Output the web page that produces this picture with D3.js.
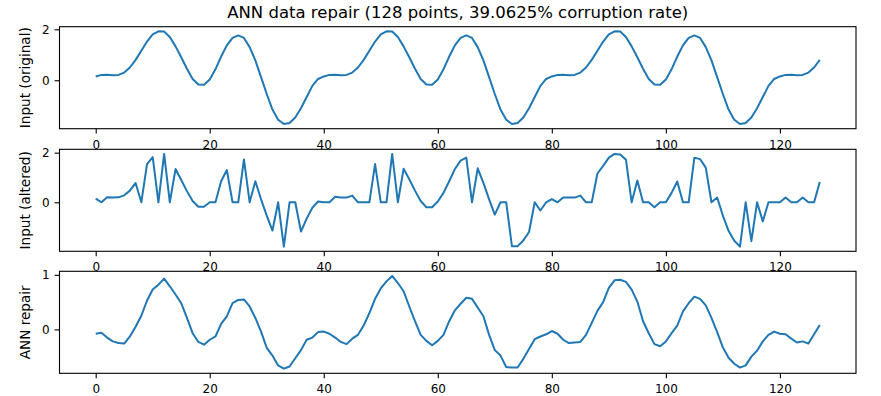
<!DOCTYPE html>
<html lang='en'>
<head>
	<meta charset='UTF-8'>
	<title>ANN data repair</title>
	<style>
		body { margin: 0; background: #fff; }
		svg { display: block; font-family: 'DejaVu Sans', sans-serif; }
	</style>
</head>
<body>

<svg></svg>

<script src='https://d3js.org/d3.v7.min.js'></script>
<script>
const title = 'ANN data repair (128 points, 39.0625% corruption rate)'
const labels = ['Input (original)', 'Input (altered)', 'ANN repair']

const original = [
    0.15, 0.21, 0.22, 0.2, 0.21, 0.3, 0.5, 0.8, 1.16, 1.52, 1.8, 1.92, 1.91, 1.7, 1.33, 0.9, 0.45, 0.05, -0.17, -0.18,
    0.03, 0.43, 0.93, 1.37, 1.66, 1.76, 1.66, 1.3, 0.78, 0.12, -0.54, -1.15, -1.55, -1.72, -1.68, -1.46, -1.1, -0.66, -0.22, 0.05,
    0.15, 0.21, 0.22, 0.2, 0.21, 0.3, 0.5, 0.8, 1.16, 1.52, 1.8, 1.92, 1.91, 1.7, 1.33, 0.9, 0.45, 0.05, -0.17, -0.18,
    0.03, 0.43, 0.93, 1.37, 1.66, 1.76, 1.66, 1.3, 0.78, 0.12, -0.54, -1.15, -1.55, -1.72, -1.68, -1.46, -1.1, -0.66, -0.22, 0.05,
    0.15, 0.21, 0.22, 0.2, 0.21, 0.3, 0.5, 0.8, 1.16, 1.52, 1.8, 1.92, 1.91, 1.7, 1.33, 0.9, 0.45, 0.05, -0.17, -0.18,
    0.03, 0.43, 0.93, 1.37, 1.66, 1.76, 1.66, 1.3, 0.78, 0.12, -0.54, -1.15, -1.55, -1.72, -1.68, -1.46, -1.1, -0.66, -0.22, 0.05,
    0.15, 0.21, 0.22, 0.2, 0.21, 0.3, 0.5, 0.8
]

const altered = [
    0.15, 0, 0.2, 0.19, 0.2, 0.28, 0.47, 0.78, 0, 1.54, 1.82, 0, 1.95, 0, 1.34, 0.9, 0.45, 0.05, -0.18, -0.18,
    0, 0, 0.85, 1.3, 0, 0, 1.73, 0, 0.85, 0.12, -0.54, -1.14, 0, -1.79, 0, 0, -1.18, -0.66, -0.22, 0.03,
    0, 0, 0.22, 0.19, 0.19, 0.27, 0, 0, 0, 1.54, 0, 0, 1.95, 0, 1.35, 0.93, 0.47, 0.05, -0.2, -0.2,
    0.03, 0.38, 0.85, 1.34, 1.68, 1.8, 0, 1.37, 0.78, 0.12, -0.5, 0, 0, -1.77, -1.77, -1.54, -1.2, 0, -0.33, 0,
    0.13, 0, 0.19, 0.19, 0.19, 0.27, 0, 0, 1.16, 1.47, 1.8, 1.95, 1.93, 1.72, 0, 0.88, 0, 0, -0.2, 0,
    0, 0.38, 0.84, 0, 0, 1.8, 1.74, 1.4, 0, 0.19, -0.54, -1.15, -1.55, -1.79, 0, -1.57, 0, -0.77, 0, 0,
    0, 0.19, 0, 0, 0.19, 0, 0, 0.82
]

const repaired = [
    -0.08, -0.06, -0.15, -0.22, -0.25, -0.26, -0.13, 0.05, 0.25, 0.53, 0.73, 0.82, 0.93, 0.79, 0.64, 0.48, 0.21, -0.07, -0.23, -0.28,
    -0.19, -0.13, 0.1, 0.24, 0.48, 0.54, 0.55, 0.42, 0.21, -0.04, -0.34, -0.48, -0.66, -0.72, -0.68, -0.53, -0.38, -0.19, -0.15, -0.05,
    -0.04, -0.08, -0.15, -0.23, -0.27, -0.17, -0.1, 0.07, 0.3, 0.56, 0.75, 0.88, 0.98, 0.85, 0.7, 0.42, 0.15, -0.1, -0.21, -0.29,
    -0.21, -0.1, 0.15, 0.35, 0.47, 0.58, 0.56, 0.4, 0.24, -0.1, -0.38, -0.48, -0.69, -0.7, -0.7, -0.54, -0.36, -0.18, -0.13, -0.09,
    -0.03, -0.08, -0.19, -0.25, -0.24, -0.23, -0.1, 0.12, 0.34, 0.5, 0.76, 0.9, 0.91, 0.87, 0.73, 0.51, 0.15, -0.07, -0.27, -0.31,
    -0.22, -0.07, 0.07, 0.33, 0.48, 0.6, 0.56, 0.44, 0.21, -0.05, -0.33, -0.52, -0.63, -0.7, -0.66, -0.5, -0.39, -0.22, -0.1, -0.04,
    -0.08, -0.09, -0.17, -0.24, -0.22, -0.26, -0.09, 0.08
]

const xTicks = [0, 20, 40, 60, 80, 100, 120]
const yTicks = [[0, 2], [0, 2], [0, 1]]

const width = 881
const height = 396
const left = 59.5
const right = 856
const tops = [26.7, 149.3, 271.3]
const panelHeight = 102
const tickLen = 4.9

const svg = d3.select('svg')
    .attr('width', width)
    .attr('height', height)

// matplotlib style 5% margins
function padded(ext) {
    const m = (ext[1] - ext[0]) * 0.05
    return [ext[0] - m, ext[1] + m]
}

const series = [original, altered, repaired]

const x = d3.scaleLinear()
    .domain(padded([0, original.length - 1]))
    .range([left, right])

series.forEach((values, k) => {
    const top = tops[k]
    const y = d3.scaleLinear()
        .domain(padded(d3.extent(values)))
        .range([top + panelHeight, top])

    const g = svg.append('g')

    g.append('rect')
        .attr('x', left)
        .attr('y', top)
        .attr('width', right - left)
        .attr('height', panelHeight)
        .attr('fill', '#fff')

    g.append('path')
        .datum(values)
        .attr('fill', 'none')
        .attr('stroke', '#1f77b4')
        .attr('stroke-width', 2)
        .attr('stroke-linejoin', 'round')
        .attr('d', d3.line().x((d, i) => x(i)).y(d => y(d)))

    const xAxis = g.append('g')
        .attr('transform', `translate(0,${top + panelHeight})`)
        .call(d3.axisBottom(x).tickValues(xTicks).tickSize(tickLen).tickPadding(6.6).tickSizeOuter(0))

    const yAxis = g.append('g')
        .attr('transform', `translate(${left},0)`)
        .call(d3.axisLeft(y).tickValues(yTicks[k]).tickFormat(d3.format('d')).tickSize(tickLen).tickPadding(4.9).tickSizeOuter(0))

    for (const ax of [xAxis, yAxis]) {
        ax.select('.domain').remove()
        ax.selectAll('line').attr('stroke', '#000').attr('stroke-width', 1.1)
        ax.selectAll('text')
            .attr('fill', '#000')
            .style('font-size', '12px')
            .style('font-family', "'DejaVu Sans', sans-serif")
    }

    g.append('rect')
        .attr('x', left)
        .attr('y', top)
        .attr('width', right - left)
        .attr('height', panelHeight)
        .attr('fill', 'none')
        .attr('stroke', '#000')
        .attr('stroke-width', 1.1)

    g.append('text')
        .attr('transform', `translate(30,${top + panelHeight / 2}) rotate(-90)`)
        .attr('text-anchor', 'middle')
        .style('font-size', '13.6px')
        .text(labels[k])
})

svg.append('text')
    .attr('x', (left + right) / 2)
    .attr('y', 17.5)
    .attr('text-anchor', 'middle')
    .style('font-size', '16.5px')
    .text(title)
</script>
</body>
</html>
